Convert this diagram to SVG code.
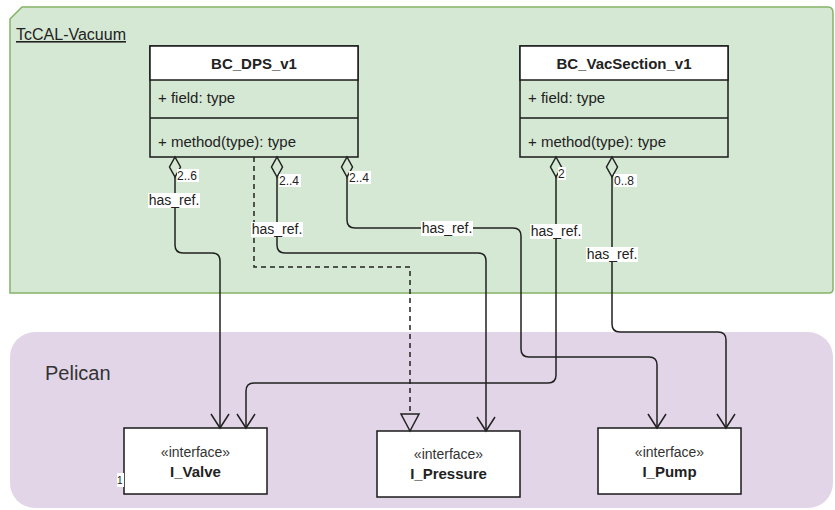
<svg xmlns="http://www.w3.org/2000/svg" width="835" height="510" viewBox="0 0 835 510">
<style>
text{font-family:"Liberation Sans",Arial,sans-serif;fill:#222}
.cls{fill:#d5e8d4;stroke:#1a1a1a;stroke-width:1.5}
.hdr{fill:#ffffff;stroke:#1a1a1a;stroke-width:1.5}
.ttl{font-size:15px;font-weight:bold;text-anchor:middle}
.mem{font-size:15px}
.ifc{fill:#ffffff;stroke:#1a1a1a;stroke-width:1.5}
.st{font-size:14px;text-anchor:middle;fill:#333}
.nm{font-size:15px;font-weight:bold;text-anchor:middle}
.conn{fill:none;stroke:#222;stroke-width:1.5}
.lblbg{fill:#ffffff}
.lbl{font-size:14px;text-anchor:middle;fill:#222}
.mul{font-size:12px;fill:#222}
</style>
<defs>
<marker id="open" markerUnits="userSpaceOnUse" markerWidth="30" markerHeight="30" refX="0" refY="0" orient="auto" overflow="visible">
<path d="M-14,-9 L0,0 L-14,9" fill="none" stroke="#222" stroke-width="1.5"/>
</marker>
<marker id="dia" markerUnits="userSpaceOnUse" markerWidth="30" markerHeight="30" refX="0" refY="0" orient="auto" overflow="visible">
<path d="M0,0 L10,-5.5 L20,0 L10,5.5 Z" fill="#d5e8d4" stroke="#222" stroke-width="1.5"/>
</marker>
<marker id="tri" markerUnits="userSpaceOnUse" markerWidth="30" markerHeight="30" refX="0" refY="0" orient="auto" overflow="visible">
<path d="M0,0 L-17,-9 L-17,9 Z" fill="#e1d5e7" stroke="#222" stroke-width="1.5"/>
</marker>
</defs>

<g id="TcCAL-Vacuum">
<path d="M10,19 L22,7 L828,7 Q833,7 833,13 L833,289 Q833,293 829,293 L10,293 Z" fill="#d5e8d4" stroke="#82b366" stroke-width="1.5"/>
<text x="16" y="40" style="font-size:16px;text-decoration:underline">TcCAL-Vacuum</text>
</g>

<g id="Pelican">
<rect x="10" y="332" width="823" height="176" rx="25" ry="25" fill="#e1d5e7"/>
<text x="45" y="380" style="font-size:20px;fill:#333">Pelican</text>
</g>

<g id="BC_DPS_v1">
<rect class="cls" x="150" y="46" width="208" height="111"/>
<rect class="hdr" x="150" y="46" width="208" height="34"/>
<line x1="150" y1="118" x2="358" y2="118" stroke="#1a1a1a" stroke-width="1.5"/>
<text class="ttl" x="254" y="69">BC_DPS_v1</text>
<text class="mem" x="158" y="103">+ field: type</text>
<text class="mem" x="158" y="147">+ method(type): type</text>
</g>

<g id="BC_VacSection_v1">
<rect class="cls" x="520" y="46" width="208" height="111"/>
<rect class="hdr" x="520" y="46" width="208" height="34"/>
<line x1="520" y1="118" x2="728" y2="118" stroke="#1a1a1a" stroke-width="1.5"/>
<text class="ttl" x="624" y="69">BC_VacSection_v1</text>
<text class="mem" x="528" y="103">+ field: type</text>
<text class="mem" x="528" y="147">+ method(type): type</text>
</g>

<g id="I_Valve">
<rect class="ifc" x="124" y="428" width="143" height="66"/>
<text class="st" x="195.5" y="457">«interface»</text>
<text class="nm" x="195.5" y="477">I_Valve</text>
</g>

<g id="I_Pressure">
<rect class="ifc" x="377" y="431" width="143" height="66"/>
<text class="st" x="448.5" y="459">«interface»</text>
<text class="nm" x="448.5" y="479">I_Pressure</text>
</g>

<g id="I_Pump">
<rect class="ifc" x="598" y="428" width="143" height="66"/>
<text class="st" x="669.5" y="457">«interface»</text>
<text class="nm" x="669.5" y="477">I_Pump</text>
</g>

<g id="connectors">
<path class="conn" d="M175,157 V245 Q175,253 183,253 H212 Q220,253 220,261 V428" marker-start="url(#dia)" marker-end="url(#open)"/>
<path class="conn" d="M277,157 V245 Q277,253 285,253 H478 Q486,253 486,261 V431" marker-start="url(#dia)" marker-end="url(#open)"/>
<path class="conn" d="M347,157 V220 Q347,228 355,228 H513 Q521,228 521,236 V349 Q521,357 529,357 H649 Q657,357 657,365 V428" marker-start="url(#dia)" marker-end="url(#open)"/>
<path class="conn" d="M556,157 V375 Q556,383 548,383 H254 Q246,383 246,391 V428" marker-start="url(#dia)" marker-end="url(#open)"/>
<path class="conn" d="M612,157 V324 Q612,332 620,332 H718 Q726,332 726,340 V428" marker-start="url(#dia)" marker-end="url(#open)"/>
<path class="conn" d="M254,157 V267 H410 V431" stroke-dasharray="5,4" marker-end="url(#tri)"/>

<rect class="lblbg" x="148" y="193" width="52" height="15"/>
<text class="lbl" x="174" y="205">has_ref.</text>
<rect class="lblbg" x="251" y="222" width="52" height="15"/>
<text class="lbl" x="277" y="234">has_ref.</text>
<rect class="lblbg" x="421" y="221" width="52" height="15"/>
<text class="lbl" x="447" y="233">has_ref.</text>
<rect class="lblbg" x="530" y="224" width="52" height="15"/>
<text class="lbl" x="556" y="236">has_ref.</text>
<rect class="lblbg" x="586" y="247" width="52" height="15"/>
<text class="lbl" x="612" y="259">has_ref.</text>

<rect class="lblbg" x="177" y="169" width="22" height="13"/>
<text class="mul" x="177" y="180">2..6</text>
<rect class="lblbg" x="279" y="174" width="22" height="13"/>
<text class="mul" x="279" y="185">2..4</text>
<rect class="lblbg" x="349" y="171" width="22" height="13"/>
<text class="mul" x="349" y="182">2..4</text>
<rect class="lblbg" x="558" y="167" width="8" height="13"/>
<text class="mul" x="558" y="178">2</text>
<rect class="lblbg" x="614" y="174" width="23" height="13"/>
<text class="mul" x="614" y="185">0..8</text>
<rect class="lblbg" x="117" y="473" width="7" height="14"/>
<text x="117" y="484" style="font-size:10px">1</text>
</g>
</svg>
